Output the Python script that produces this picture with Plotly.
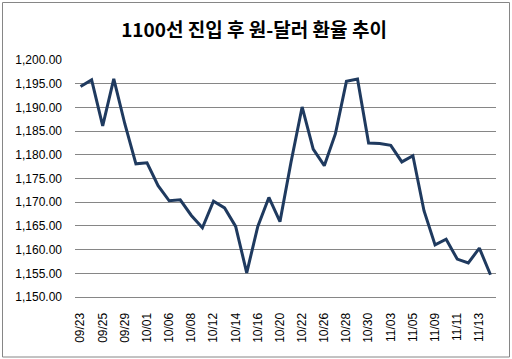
import plotly.graph_objects as go

dates = ["09/23", "09/24", "09/25", "09/28", "09/29", "09/30", "10/01", "10/05",
         "10/06", "10/07", "10/08", "10/09", "10/12", "10/13", "10/14", "10/15",
         "10/16", "10/19", "10/20", "10/21", "10/22", "10/23", "10/26", "10/27",
         "10/28", "10/29", "10/30", "11/02", "11/03", "11/04", "11/05", "11/06",
         "11/09", "11/10", "11/11", "11/12", "11/13", "11/16"]
rates = [1194.4, 1195.8, 1186.1, 1196.0, 1186.5, 1178.1, 1178.3, 1173.5,
         1170.3, 1170.5, 1167.2, 1164.6, 1170.2, 1168.8, 1164.9, 1155.1,
         1164.9, 1171.0, 1165.9, 1178.5, 1190.1, 1181.2, 1177.7, 1184.4,
         1195.5, 1196.0, 1182.5, 1182.4, 1182.0, 1178.5, 1179.8, 1168.2,
         1161.0, 1162.2, 1158.0, 1157.2, 1160.3, 1154.7]
tick_labels = dates[::2]
title_text = "1100선 진입 후 원-달러 환율 추이"

W, H = 512, 359
L, R, T, B = 75, 16, 60, 62
pw, ph = W - L - R, H - T - B

fig = go.Figure()
fig.add_trace(go.Scatter(
    x=dates, y=rates, mode="lines",
    line=dict(color="#1F3A5F", width=3),
    hoverinfo="x+y",
))

def px_x(p):
    return (p - L) / pw

def px_y(p):
    return (H - B - p) / ph

fig.update_layout(
    width=W, height=H,
    margin=dict(l=L, r=R, t=T, b=B),
    paper_bgcolor="white", plot_bgcolor="white",
    showlegend=False,
    title=dict(text="<b>" + title_text + "</b>", x=254 / W, xref="container", xanchor="center",
               y=1 - 30 / H, yref="container", yanchor="middle",
               font=dict(family="Noto Sans CJK KR", size=19, color="black")),
    xaxis=dict(
        type="category", categoryorder="array", categoryarray=dates,
        tickmode="array", tickvals=tick_labels, ticktext=tick_labels,
        tickangle=-90, showgrid=False, showline=True, linecolor="#868686",
        linewidth=1, ticks="", ticklabelstandoff=10,
        tickfont=dict(family="Liberation Sans", size=12, color="black"),
        range=[-0.5, len(dates) - 0.5], fixedrange=True,
    ),
    yaxis=dict(
        range=[1150, 1200], dtick=5, tick0=1150, tickformat=",.2f",
        showgrid=True, gridcolor="#868686", gridwidth=1,
        zeroline=False, showline=False, ticks="", ticklabelstandoff=12,
        tickfont=dict(family="Liberation Sans", size=12, color="black"),
    ),
    shapes=[dict(type="rect", xref="paper", yref="paper",
                 x0=px_x(2.5), x1=px_x(509.5), y0=px_y(357), y1=px_y(2.5),
                 line=dict(color="#868686", width=1), fillcolor="rgba(0,0,0,0)",
                 layer="below")],
)

fig.write_html("out.html")
